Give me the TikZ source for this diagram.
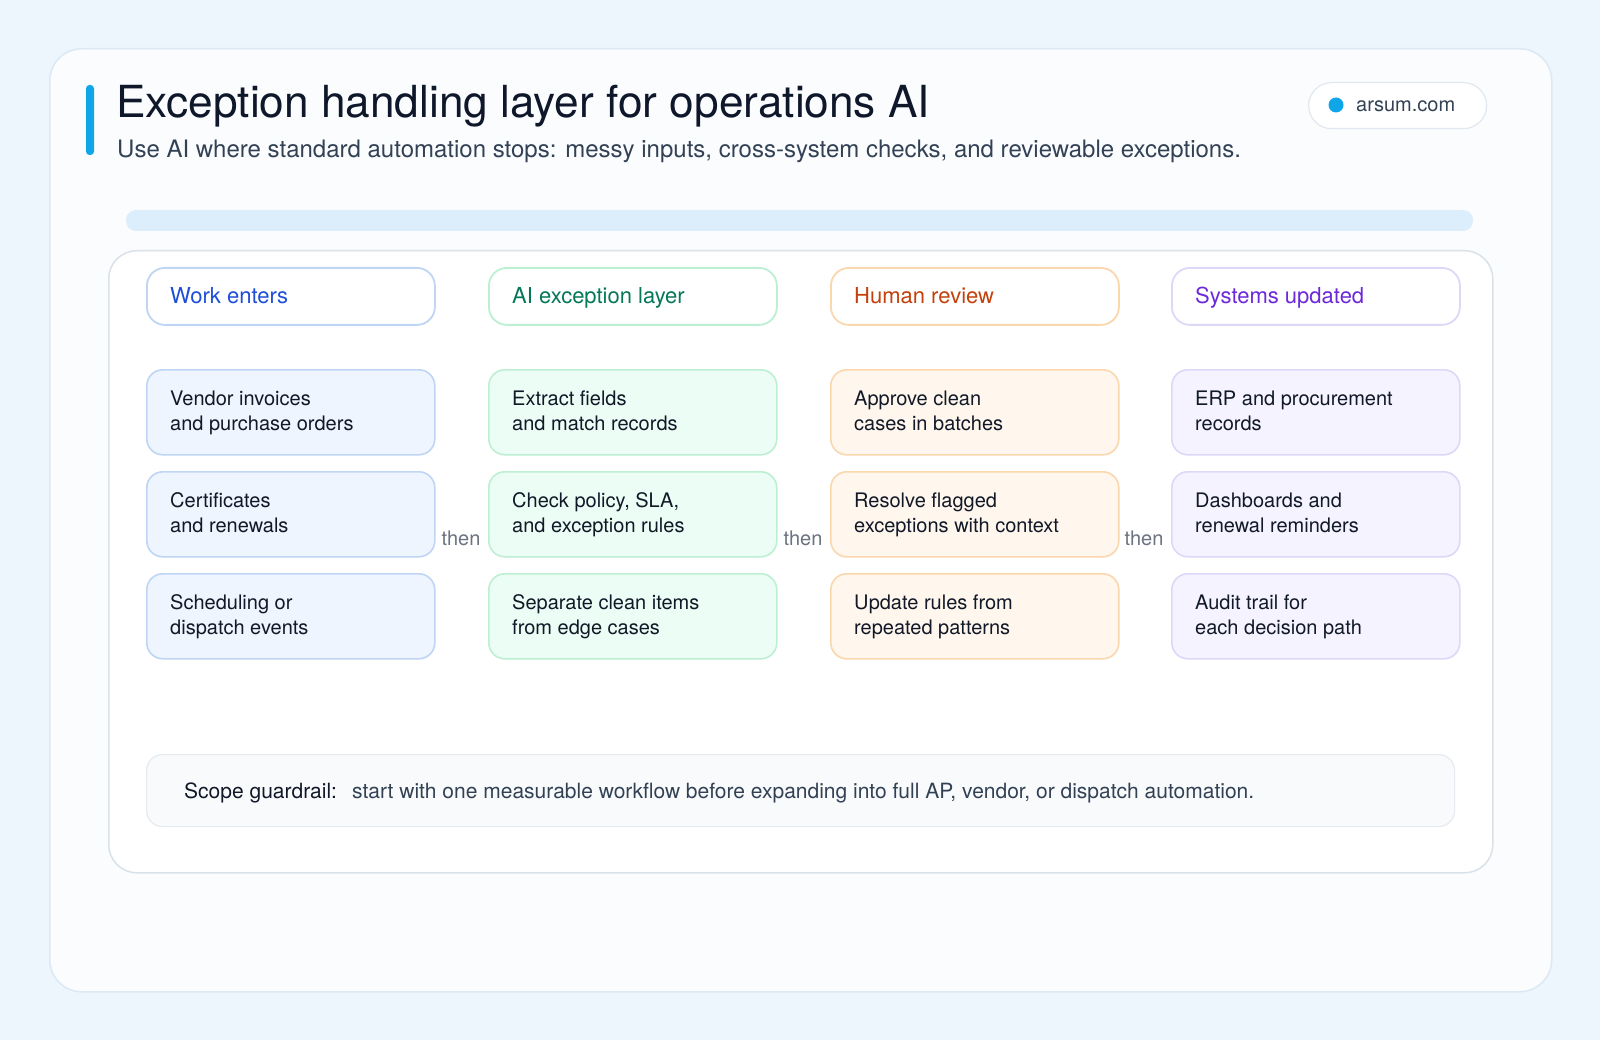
\documentclass[tikz,border=0pt]{standalone}
\usepackage{fontspec}
\setmainfont{TeX Gyre Heros}
\usetikzlibrary{calc}
\definecolor{pagebg}{HTML}{EEF6FD}
\definecolor{cardbg}{HTML}{FAFCFE}
\definecolor{cardline}{HTML}{DCE8F3}
\definecolor{panelline}{HTML}{D9E1E9}
\definecolor{accent}{HTML}{0EA5E9}
\definecolor{titleink}{HTML}{0F172A}
\definecolor{subink}{HTML}{334155}
\definecolor{ink}{HTML}{111827}
\definecolor{thenink}{HTML}{6B7280}
\definecolor{barbg}{HTML}{DCEEFC}
\definecolor{pillline}{HTML}{E2E8F0}
\definecolor{guardbg}{HTML}{F8FAFC}
\definecolor{guardline}{HTML}{E5EBF0}
% column colours
\definecolor{blueink}{HTML}{1D4ED8}
\definecolor{blueline}{HTML}{BFD5F4}
\definecolor{bluefill}{HTML}{EEF5FF}
\definecolor{greenink}{HTML}{047857}
\definecolor{greenline}{HTML}{BDEFD2}
\definecolor{greenfill}{HTML}{ECFDF5}
\definecolor{orangeink}{HTML}{C2410C}
\definecolor{orangeline}{HTML}{FAD7AD}
\definecolor{orangefill}{HTML}{FFF7ED}
\definecolor{violetink}{HTML}{6D28D9}
\definecolor{violetline}{HTML}{DDD8F8}
\definecolor{violetfill}{HTML}{F5F3FF}
\newcommand\mkcard[6]{%
  \node[card, draw=#4line, fill=#4fill] (#1) at (#2,#3) {};
  \node[cardtxt] (#1t) at ($(#1.north west)+(24,36)$)
    {\parbox[t]{250pt}{#5\\#6}};
}
\begin{document}
\begin{tikzpicture}[x=1pt,y=-1pt,
  hdr/.style={anchor=north west, minimum width=288pt, minimum height=57pt,
    rounded corners=18pt, fill=white, line width=1.8pt, inner sep=0pt},
  hdrtxt/.style={anchor=base west, inner sep=0pt, font=\fontsize{22}{26}\selectfont},
  card/.style={anchor=north west, minimum width=288pt, minimum height=85pt,
    rounded corners=16pt, line width=1.6pt, inner sep=0pt},
  cardtxt/.style={anchor=base west, inner sep=0pt, text=ink,
    font=\fontsize{20}{25.5}\selectfont},
  thentxt/.style={anchor=base, inner sep=0pt, text=thenink,
    font=\fontsize{20}{24}\selectfont}]
\useasboundingbox (0,0) rectangle (1600,1040);
\fill[pagebg] (0,0) rectangle (1600,1040);
% main card
\node[anchor=north west, minimum width=1502pt, minimum height=943pt,
  rounded corners=32pt, fill=cardbg, draw=cardline, line width=1.5pt,
  inner sep=0pt] (maincard) at (49,48) {};
% accent bar
\fill[accent, rounded corners=3.5pt] (86,85) rectangle (94,155);
% title
\node[anchor=base west, inner sep=0pt, text=titleink,
  font=\fontsize{44.2}{50}\selectfont] (title) at (116,118)
  {Exception handling layer for operations AI};
\node[anchor=base west, inner sep=0pt, text=subink,
  font=\fontsize{24}{28}\selectfont] (subtitle) at (117,158)
  {Use AI where standard automation stops: messy inputs, cross-system checks, and reviewable exceptions.};
% pill
\node[anchor=north west, minimum width=178pt, minimum height=46pt,
  rounded corners=23pt, fill=white, draw=pillline, line width=1.2pt,
  inner sep=0pt] (pill) at (1308,82) {};
\fill[accent] (1336,105) circle (7.5);
\node[anchor=base west, inner sep=0pt, text=subink,
  font=\fontsize{20}{24}\selectfont] (site) at (1356,112) {arsum.com};
% light bar
\fill[barbg, rounded corners=10pt] (126,210) rectangle (1473,231);
% inner panel
\node[anchor=north west, minimum width=1384pt, minimum height=622pt,
  rounded corners=28pt, fill=white, draw=panelline, line width=1.5pt,
  inner sep=0pt] (panel) at (108,250) {};
% headers
\node[hdr, draw=blueline] (h1) at (146,267) {};
\node[hdr, draw=greenline] (h2) at (488,267) {};
\node[hdr, draw=orangeline] (h3) at (830,267) {};
\node[hdr, draw=violetline] (h4) at (1171,267) {};
\node[hdrtxt, text=blueink] (h1t) at (170,304) {Work enters};
\node[hdrtxt, text=greenink] (h2t) at (512,304) {AI exception layer};
\node[hdrtxt, text=orangeink] (h3t) at (854,304) {Human review};
\node[hdrtxt, text=violetink] (h4t) at (1195,304) {Systems updated};
% cards
\mkcard{c11}{146}{369}{blue}{Vendor invoices}{and purchase orders}
\mkcard{c12}{146}{471}{blue}{Certificates}{and renewals}
\mkcard{c13}{146}{573}{blue}{Scheduling or}{dispatch events}
\mkcard{c21}{488}{369}{green}{Extract fields}{and match records}
\mkcard{c22}{488}{471}{green}{Check policy, SLA,}{and exception rules}
\mkcard{c23}{488}{573}{green}{Separate clean items}{from edge cases}
\mkcard{c31}{830}{369}{orange}{Approve clean}{cases in batches}
\mkcard{c32}{830}{471}{orange}{Resolve flagged}{exceptions with context}
\mkcard{c33}{830}{573}{orange}{Update rules from}{repeated patterns}
\mkcard{c41}{1171}{369}{violet}{ERP and procurement}{records}
\mkcard{c42}{1171}{471}{violet}{Dashboards and}{renewal reminders}
\mkcard{c43}{1171}{573}{violet}{Audit trail for}{each decision path}
% then labels
\node[thentxt] (then1) at (461,545) {then};
\node[thentxt] (then2) at (803,545) {then};
\node[thentxt] (then3) at (1144,545) {then};
% guardrail
\node[anchor=north west, minimum width=1308pt, minimum height=72pt,
  rounded corners=16pt, fill=guardbg, draw=guardline, line width=1.2pt,
  inner sep=0pt] (guard) at (146,754) {};
\node[anchor=base west, inner sep=0pt, text=ink,
  font=\fontsize{21}{25}\selectfont] (guardlbl) at (184,798) {Scope guardrail:};
\node[anchor=base west, inner sep=0pt, text=subink,
  font=\fontsize{21}{25}\selectfont] (guardtxt) at (352,798)
  {start with one measurable workflow before expanding into full AP, vendor, or dispatch automation.};
\end{tikzpicture}
\end{document}
